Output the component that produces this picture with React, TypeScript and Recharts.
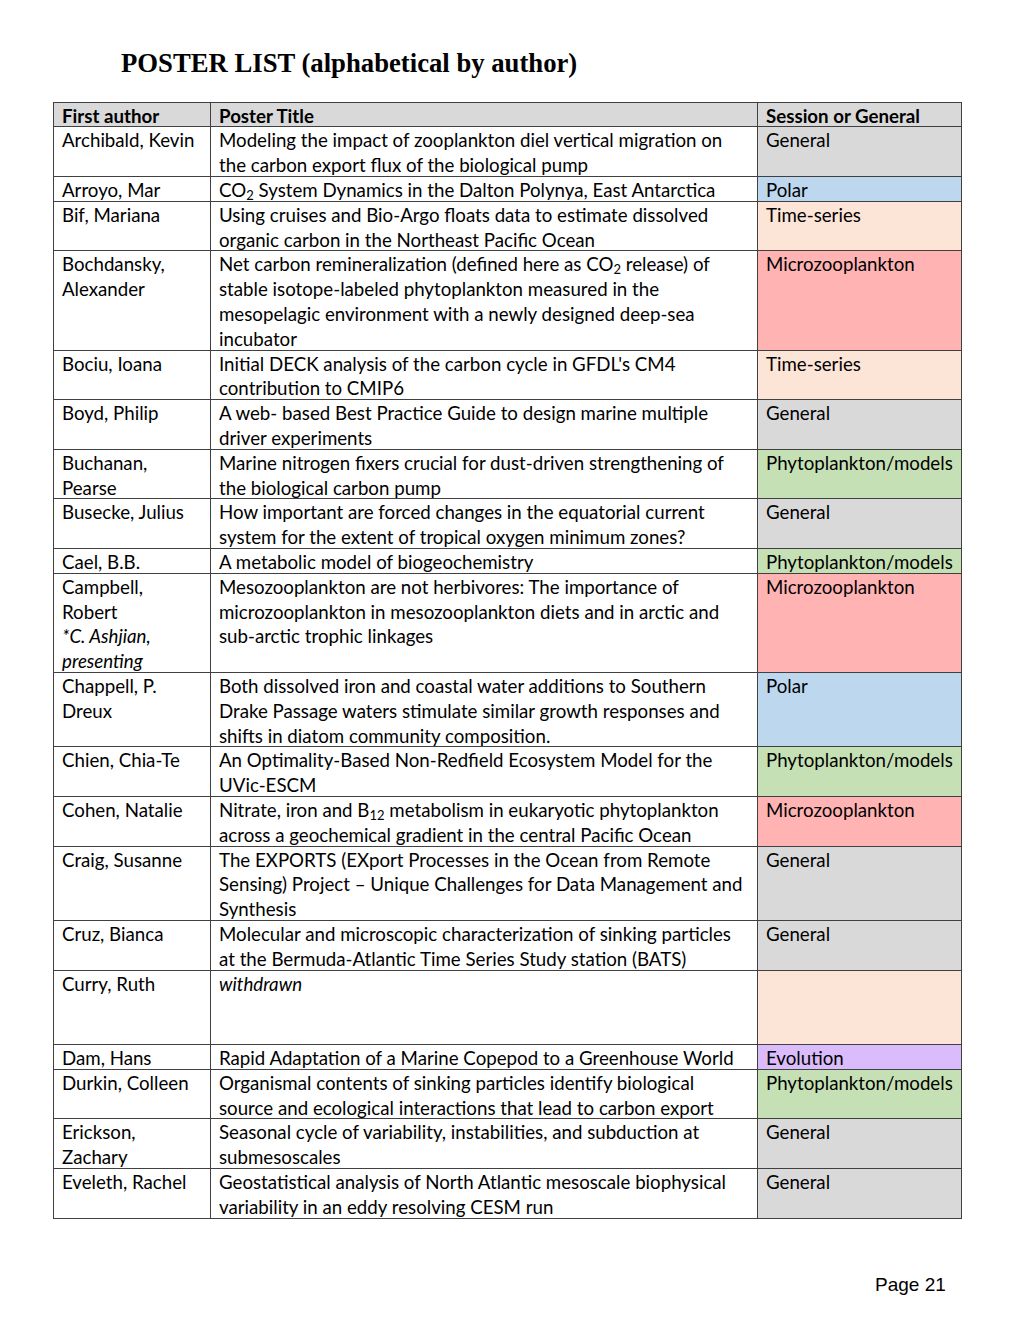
import React from 'react';
import { BarChart, Bar, XAxis, YAxis } from 'recharts';

// table content, one entry per poster row
const columnHeads = ['First author', 'Poster Title', 'Session or General'];

const authors: string[][] = [
  ['Archibald, Kevin'],
  ['Arroyo, Mar'],
  ['Bif, Mariana'],
  ['Bochdansky,', 'Alexander'],
  ['Bociu, Ioana'],
  ['Boyd, Philip'],
  ['Buchanan,', 'Pearse'],
  ['Busecke, Julius'],
  ['Cael, B.B.'],
  ['Campbell,', 'Robert', '_*C. Ashjian,', '_presenting'],
  ['Chappell, P.', 'Dreux'],
  ['Chien, Chia-Te'],
  ['Cohen, Natalie'],
  ['Craig, Susanne'],
  ['Cruz, Bianca'],
  ['Curry, Ruth'],
  ['Dam, Hans'],
  ['Durkin, Colleen'],
  ['Erickson,', 'Zachary'],
  ['Eveleth, Rachel'],
];

const titles: string[][] = [
  ['Modeling the impact of zooplankton diel vertical migration on', 'the carbon export flux of the biological pump'],
  ['CO{2} System Dynamics in the Dalton Polynya, East Antarctica'],
  ['Using cruises and Bio-Argo floats data to estimate dissolved', 'organic carbon in the Northeast Pacific Ocean'],
  ['Net carbon remineralization (defined here as CO{2} release) of', 'stable isotope-labeled phytoplankton measured in the', 'mesopelagic environment with a newly designed deep-sea', 'incubator'],
  ["Initial DECK analysis of the carbon cycle in GFDL's CM4", 'contribution to CMIP6'],
  ['A web- based Best Practice Guide to design marine multiple', 'driver experiments'],
  ['Marine nitrogen fixers crucial for dust-driven strengthening of', 'the biological carbon pump'],
  ['How important are forced changes in the equatorial current', 'system for the extent of tropical oxygen minimum zones?'],
  ['A metabolic model of biogeochemistry'],
  ['Mesozooplankton are not herbivores: The importance of', 'microzooplankton in mesozooplankton diets and in arctic and', 'sub-arctic trophic linkages'],
  ['Both dissolved iron and coastal water additions to Southern', 'Drake Passage waters stimulate similar growth responses and', 'shifts in diatom community composition.'],
  ['An Optimality-Based Non-Redfield Ecosystem Model for the', 'UVic-ESCM'],
  ['Nitrate, iron and B{12} metabolism in eukaryotic phytoplankton', 'across a geochemical gradient in the central Pacific Ocean'],
  ['The EXPORTS (EXport Processes in the Ocean from Remote', 'Sensing) Project \u2013 Unique Challenges for Data Management and', 'Synthesis'],
  ['Molecular and microscopic characterization of sinking particles', 'at the Bermuda-Atlantic Time Series Study station (BATS)'],
  ['_withdrawn'],
  ['Rapid Adaptation of a Marine Copepod to a Greenhouse World'],
  ['Organismal contents of sinking particles identify biological', 'source and ecological interactions that lead to carbon export'],
  ['Seasonal cycle of variability, instabilities, and subduction at', 'submesoscales'],
  ['Geostatistical analysis of North Atlantic mesoscale biophysical', 'variability in an eddy resolving CESM run'],
];

const sessions = [
  'General', 'Polar', 'Time-series', 'Microzooplankton', 'Time-series',
  'General', 'Phytoplankton/models', 'General', 'Phytoplankton/models', 'Microzooplankton',
  'Polar', 'Phytoplankton/models', 'Microzooplankton', 'General', 'General',
  '', 'Evolution', 'Phytoplankton/models', 'General', 'General',
];

// number of text lines each row takes up
const lineCounts = [2, 1, 2, 4, 2, 2, 2, 2, 1, 4, 3, 2, 2, 3, 2, 3, 1, 2, 2, 2];

const sessionColors: Record<string, string> = {
  General: '#d9d9d9',
  Polar: '#bdd7ee',
  'Time-series': '#fce4d6',
  Microzooplankton: '#ffb3b3',
  'Phytoplankton/models': '#c5e0b4',
  Evolution: '#dabcfc',
  '': '#fce4d6', // withdrawn
};

const FONT = 'Lato, "Open Sans", sans-serif';
const FONT_SIZE = 18.7;
const LINE = 24.8;
const TABLE_LEFT = 53;
const TABLE_TOP = 102;
const colWidths = [157, 547, 204];

const rowHeights = [1, ...lineCounts];
const totalLines = rowHeights.reduce((a, b) => a + b, 0);

const TextLine = ({ x, y, text, bold }: { x: number; y: number; text: string; bold?: boolean }) => {
  const italic = text.startsWith('_');
  const body = italic ? text.slice(1) : text;
  const parts = body.split(/(\{[^}]*\})/).filter(Boolean);
  let shifted = false;
  return (
    <text
      x={x}
      y={y}
      fontFamily={FONT}
      fontSize={FONT_SIZE}
      fontWeight={bold ? 700 : 400}
      fontStyle={italic ? 'italic' : 'normal'}
      fill="#000"
    >
      {parts.map((p, i) => {
        if (p.startsWith('{')) {
          shifted = true;
          return (
            <tspan key={i} fontSize={13} dy={3}>
              {p.slice(1, -1)}
            </tspan>
          );
        }
        const dy = shifted ? -3 : 0;
        shifted = false;
        return (
          <tspan key={i} dy={dy}>
            {p}
          </tspan>
        );
      })}
    </text>
  );
};

const cellLines = (col: number, row: number): string[] => {
  if (row === 0) return [columnHeads[col]];
  if (col === 0) return authors[row - 1];
  if (col === 1) return titles[row - 1];
  return sessions[row - 1] ? [sessions[row - 1]] : [];
};

const cellFill = (col: number, row: number) => {
  if (row === 0) return '#d9d9d9';
  if (col === 2) return sessionColors[sessions[row - 1]];
  return '#ffffff';
};

const TableCell = (props: any) => {
  const { x, y, width, height, col, row } = props;
  const top = Math.min(y, y + height);
  const h = Math.abs(height);
  const lines = cellLines(col, row);
  return (
    <g>
      <rect
        x={x}
        y={top}
        width={width}
        height={h}
        fill={cellFill(col, row)}
        stroke="#404040"
        strokeWidth={1}
        shapeRendering="crispEdges"
      />
      {lines.map((t, k) => (
        <TextLine key={k} x={x + 9} y={top + 20.5 + k * LINE} text={t} bold={row === 0} />
      ))}
    </g>
  );
};

const Column = ({ col, left }: { col: number; left: number }) => {
  const width = colWidths[col];
  const row: Record<string, string | number> = { name: columnHeads[col] };
  rowHeights.forEach((h, i) => {
    row[`r${i}`] = h;
  });
  return (
    <div style={{ position: 'absolute', left: left - 1, top: TABLE_TOP - 1 }}>
      <BarChart
        width={width + 2}
        height={totalLines * LINE + 5}
        data={[row]}
        margin={{ top: 1, right: 1, bottom: 4, left: 1 }}
        barCategoryGap={0}
        barGap={0}
      >
        <XAxis dataKey="name" hide />
        <YAxis type="number" hide reversed domain={[0, totalLines]} />
        {rowHeights.map((_, i) => (
          <Bar
            key={i}
            dataKey={`r${i}`}
            stackId="t"
            isAnimationActive={false}
            shape={(p: any) => <TableCell {...p} col={col} row={i} />}
          />
        ))}
      </BarChart>
    </div>
  );
};

export default function App() {
  const lefts = colWidths.map((_, i) => TABLE_LEFT + colWidths.slice(0, i).reduce((a, b) => a + b, 0));
  return (
    <div style={{ position: 'absolute', left: 0, top: 0, width: 1020, height: 1320, background: '#fff' }}>
      <svg width={1020} height={1320} style={{ position: 'absolute', left: 0, top: 0 }}>
        <text x={121} y={72} fontFamily='"Liberation Serif", "Times New Roman", serif' fontWeight={700} fontSize={26.7} fill="#000">
          POSTER LIST (alphabetical by author)
        </text>
        <text x={875} y={1291} fontFamily='"Liberation Sans", Arial, sans-serif' fontSize={19} fill="#000">
          Page 21
        </text>
      </svg>
      {colWidths.map((_, i) => (
        <Column key={i} col={i} left={lefts[i]} />
      ))}
    </div>
  );
}
